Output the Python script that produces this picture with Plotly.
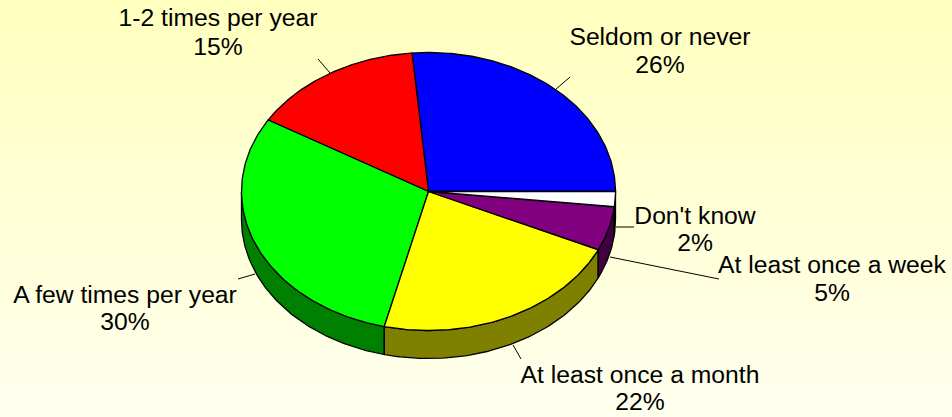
import numpy as np
import plotly.graph_objects as go

# Data, counter-clockwise from the 3 o'clock position
categories = ["Seldom or never", "1-2 times per year", "A few times per year",
              "At least once a month", "At least once a week", "Don't know"]
values = [26.4, 15.0, 29.8, 21.9, 5.1, 1.8]

# Styles
top_colors = ["#0000FF", "#FF0000", "#00FF00", "#FFFF00", "#800080", "#FFFFFF"]
side_colors = ["#000080", "#800000", "#008000", "#808000", "#400040", "#808080"]

W, H = 952, 417
CX, CY, RX, RY, DEPTH = 428.5, 191.5, 187, 139, 28
FONT = dict(family="Liberation Sans, Arial, sans-serif", size=24.7, color="#000000")

# Layout of labels: centre x, y of first line, y of second line
label_pos = [(660, 39, 67), (218, 20, 49), (125, 297, 324),
             (640, 377, 404), (832, 267, 295), (695, 218, 245)]
leaders = [((555, 90), (570, 77)), ((330, 73), (318, 59)), ((255, 274), (238, 279)),
           ((513, 345), (521, 359)), ((610, 257), (719, 279)), ((616, 227), (634, 227))]

fig = go.Figure()

# Background gradient
fig.add_trace(go.Scatter(
    x=[0, W, W, 0, 0], y=[0, 0, H, H, 0], mode="lines", line=dict(width=0),
    fill="toself", hoverinfo="skip", showlegend=False,
    fillgradient=dict(type="vertical",
                      colorscale=[[0, "#FFFFEE"], [1, "#FFFFBE"]])))


def ex(a):
    return CX + RX * np.cos(a)


def ey(a):
    return CY - RY * np.sin(a)


edges = np.radians(np.concatenate([[0], np.cumsum(values)]) / sum(values) * 360)

# Side walls (only the front half of the rim is visible)
for i in range(len(values)):
    a0, a1 = max(edges[i], np.pi), edges[i + 1]
    if a1 <= a0:
        continue
    arc = np.linspace(a0, a1, 80)
    xs = np.concatenate([ex(arc), ex(arc[::-1]), ex(arc[:1])])
    ys = np.concatenate([ey(arc), ey(arc[::-1]) + DEPTH, ey(arc[:1])])
    fig.add_trace(go.Scatter(x=xs, y=ys, mode="lines", fill="toself",
                             fillcolor=side_colors[i], line=dict(color="#000000", width=1.3),
                             hoverinfo="skip", showlegend=False))

# Top faces
for i, name in enumerate(categories):
    arc = np.linspace(edges[i], edges[i + 1], 120)
    xs = np.concatenate([[CX], ex(arc), [CX]])
    ys = np.concatenate([[CY], ey(arc), [CY]])
    fig.add_trace(go.Scatter(x=xs, y=ys, mode="lines", fill="toself", name=name,
                             fillcolor=top_colors[i], line=dict(color="#000000", width=1.3),
                             text=f"{name}: {round(values[i])}%", hoverinfo="text", showlegend=False))

# Leader lines
for (x0, y0), (x1, y1) in leaders:
    fig.add_trace(go.Scatter(x=[x0, x1], y=[y0, y1], mode="lines",
                             line=dict(color="#000000", width=1),
                             hoverinfo="skip", showlegend=False))

# Labels
for name, val, (lx, ly0, ly1) in zip(categories, values, label_pos):
    fig.add_trace(go.Scatter(x=[lx, lx], y=[ly0, ly1], mode="text",
                             text=[name, f"{round(val)}%"], textposition="middle center",
                             textfont=FONT, hoverinfo="skip", showlegend=False,
                             cliponaxis=False))

fig.update_layout(
    width=W, height=H, margin=dict(l=0, r=0, t=0, b=0),
    paper_bgcolor="#FFFFD8", plot_bgcolor="rgba(0,0,0,0)", showlegend=False,
    xaxis=dict(range=[0, W], visible=False, fixedrange=True),
    yaxis=dict(range=[H, 0], visible=False, fixedrange=True),
)
fig.write_html("out.html", config=dict(displayModeBar=False),
               post_script="document.body.style.margin='0';document.body.style.overflow='hidden';")
